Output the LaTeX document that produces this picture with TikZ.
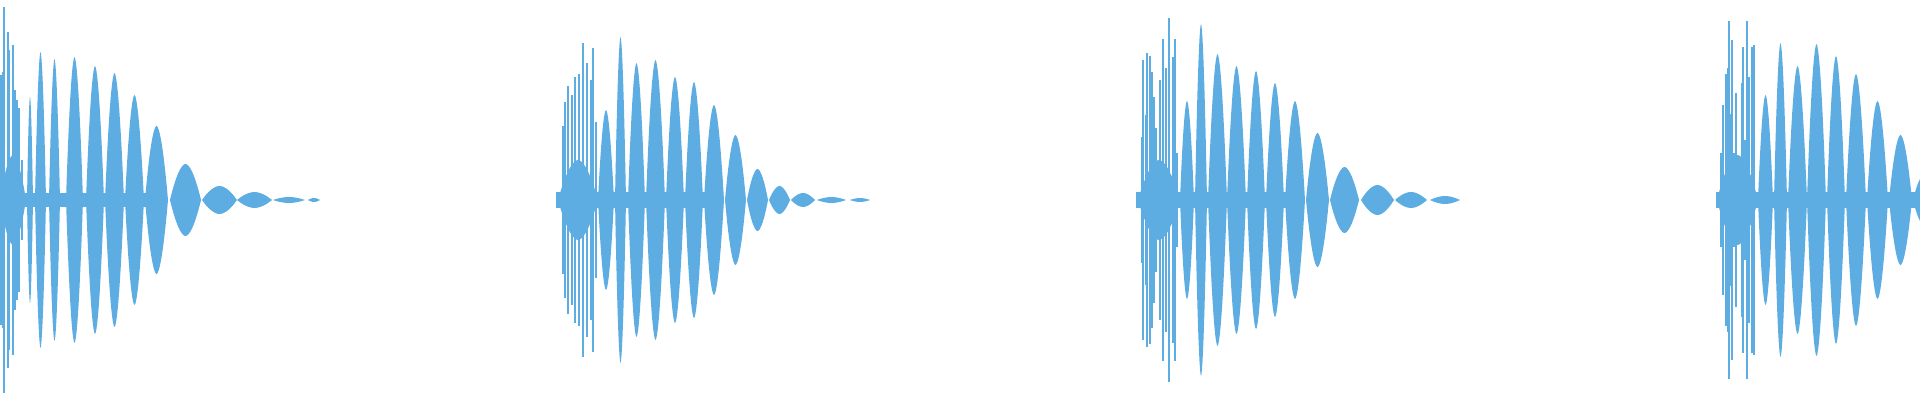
\documentclass[tikz,border=0pt]{standalone}
\usepackage{xcolor}
\usepackage{tikz}
\definecolor{wavecol}{HTML}{5DADE2}
\tikzset{
	wave/.style={fill=wavecol,draw=none},
	spike/.style={draw=wavecol,line width=0.4pt},
}
\newcommand{\wlobe}[3]{\fill[wave] plot[domain=-1:1,samples=25] ({#1+(#2-#1)*(\x+1)/2},{#3*(1-pow(abs(\x),1.8))}) -- plot[domain=1:-1,samples=25] ({#1+(#2-#1)*(\x+1)/2},{-#3*(1-pow(abs(\x),1.8))}) -- cycle;}

\begin{document}
\begin{tikzpicture}[x=0.01cm,y=0.01cm]
	\useasboundingbox (0,-200) rectangle (1920,200);
	% burst 1
	\fill[wave] (0,-7) rectangle (165,7);
	\wlobe{0}{26}{45}
	\foreach \a/\b/\h in {27/33/103,35/46/148,49/60/141,66/83/143,86/104/134,105/124/127,125/144/105,145/168/74,170/201/36,202/237/14,237/272/8,273/305/3,308/320/2}
		\wlobe{\a}{\b}{\h}
	\foreach \s/\h in {1/125,3/128,4/193,8/168,9/150,13/155,15/110,17/100,19/92,22/40}
		\draw[spike] (\s,-\h) -- (\s,\h);
	% burst 2
	\fill[wave] (556,-8) rectangle (720,8);
	\wlobe{558}{598}{40}
	\foreach \a/\b/\h in {598/614/90,615/626/163,628/645/137,646/665/140,666/684/123,685/703/118,704/724/95,725/746/65,747/768/31,769/790/14,791/815/7,817/846/3,850/870/2}
		\wlobe{\a}{\b}{\h}
	\foreach \s/\h in {563/74,565/98,568/114,572/105,575/123,579/126,583/157,587/137,591/120,593/152,596/78}
		\draw[spike] (\s,-\h) -- (\s,\h);
	% burst 3
	\fill[wave] (1136,-8) rectangle (1300,8);
	\wlobe{1138}{1180}{40}
	\foreach \a/\b/\h in {1180/1194/99,1195/1207/176,1208/1227/146,1227/1246/134,1247/1265/129,1266/1284/117,1285/1305/99,1306/1329/67,1330/1359/33,1361/1394/15,1395/1427/8,1430/1460/4}
		\wlobe{\a}{\b}{\h}
	\foreach \s/\h in {1142/63,1143/140,1146/85,1147/147,1150/144,1152/128,1154/103,1156/72,1160/120,1163/161,1166/132,1169/182,1173/143,1175/161,1177/47}
		\draw[spike] (\s,-\h) -- (\s,\h);
	% burst 4
	\fill[wave] (1716,-8) rectangle (1920,8);
	\wlobe{1717}{1758}{45}
	\foreach \a/\b/\h in {1758/1773/105,1774/1787/157,1788/1807/134,1807/1826/156,1827/1845/144,1846/1866/126,1867/1888/99,1889/1912/65,1913/1935/25}
		\wlobe{\a}{\b}{\h}
	\foreach \s/\h in {1721/47,1723/95,1726/126,1728/132,1729/179,1731/86,1732/160,1734/47,1736/107,1739/43,1742/117,1743/153,1745/60,1747/179,1749/123,1752/153,1754/155}
		\draw[spike] (\s,-\h) -- (\s,\h);
\end{tikzpicture}
\end{document}
